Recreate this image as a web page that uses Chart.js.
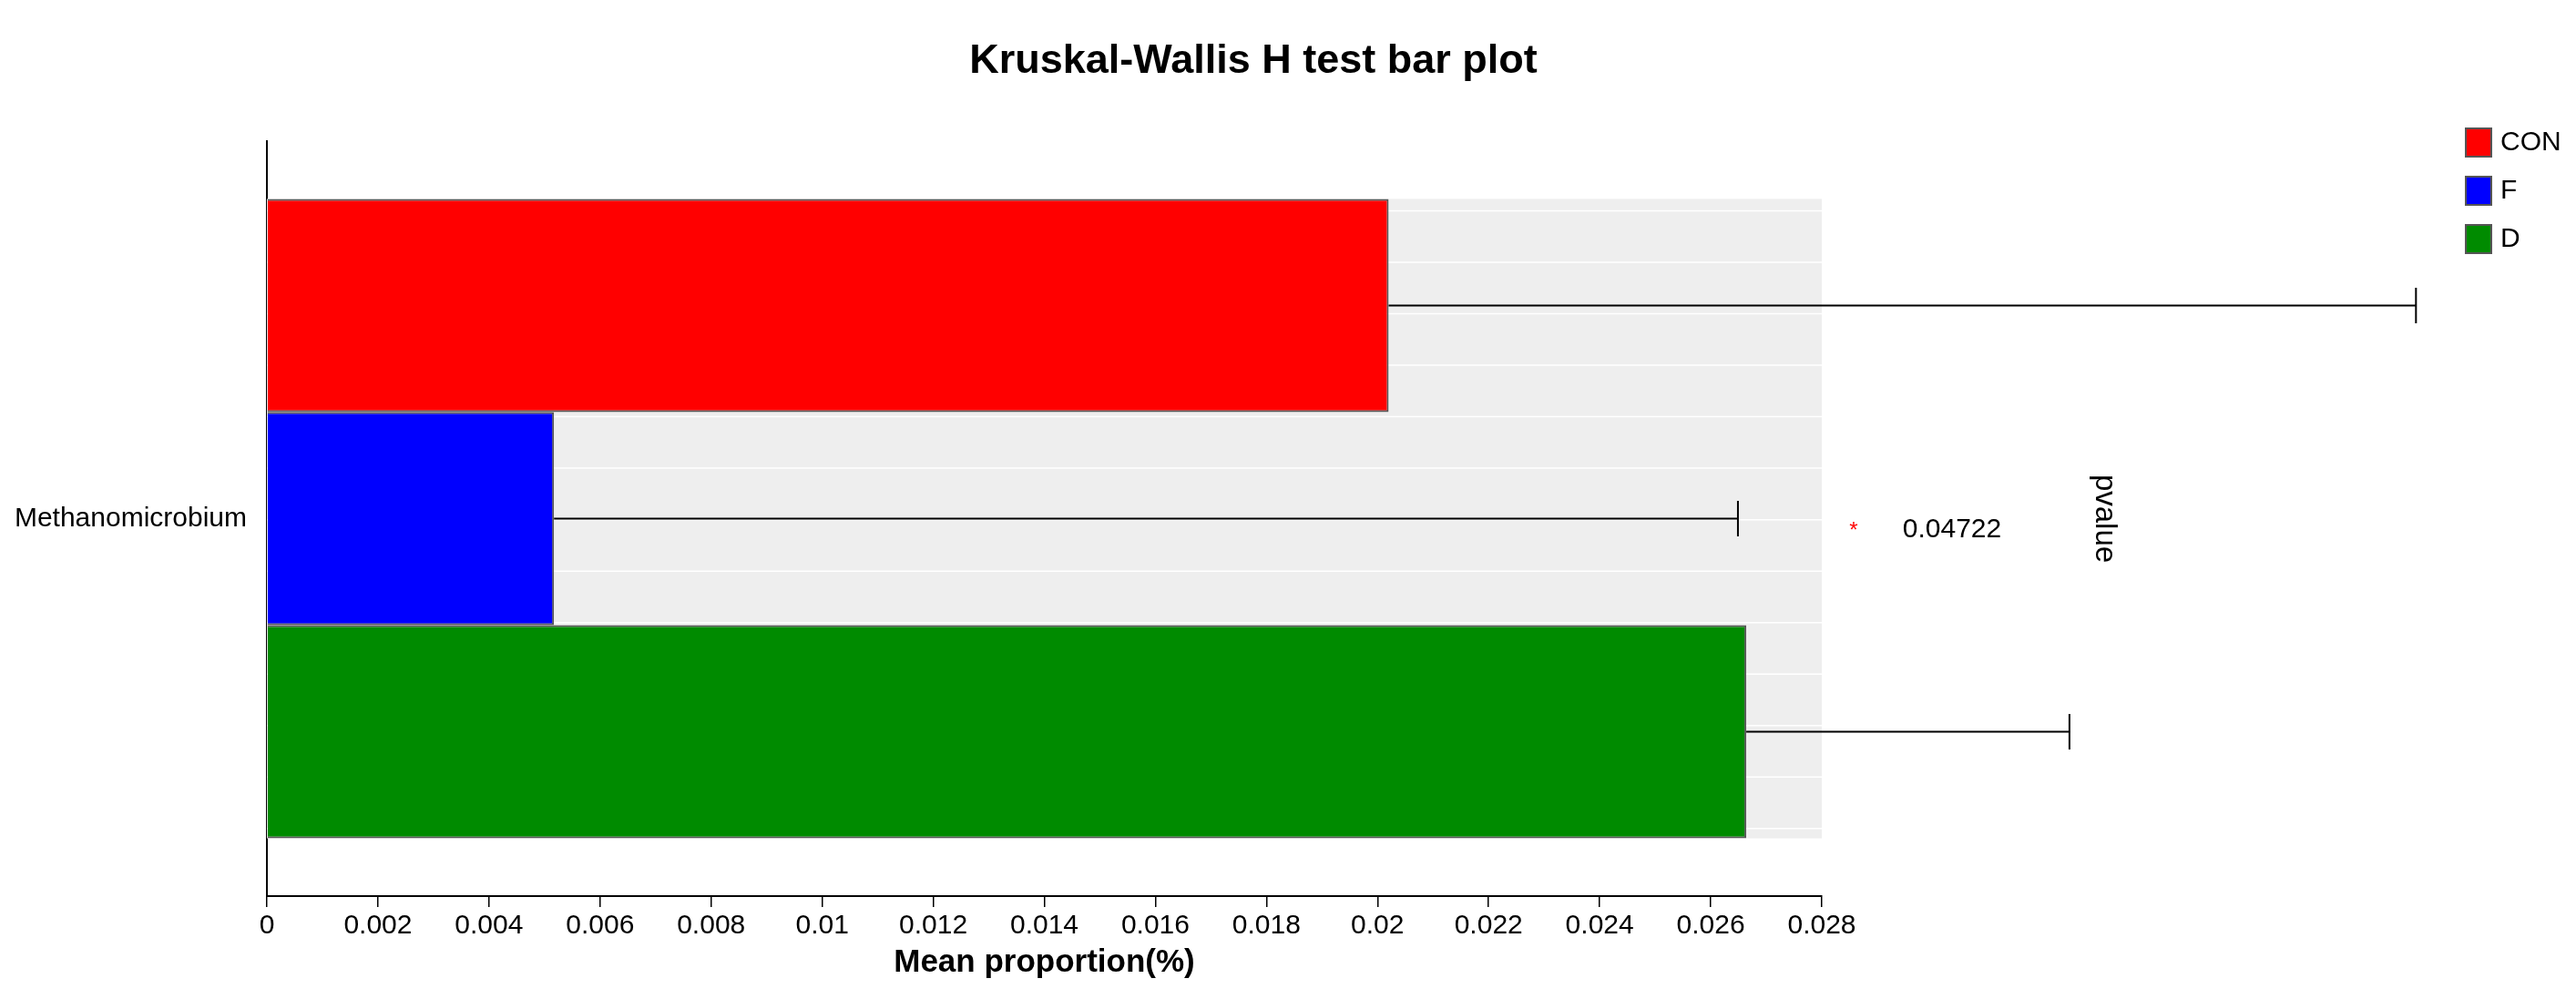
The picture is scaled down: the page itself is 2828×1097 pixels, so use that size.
<!DOCTYPE html>
<html>
<head>
<meta charset="utf-8">
<script src="https://cdn.jsdelivr.net/npm/chart.js@4.4.0/dist/chart.umd.min.js"></script>
<style>
  html, body { margin: 0; padding: 0; background: #fff; }
  #wrap { width: 2828px; height: 1097px; }
</style>
</head>
<body>
<div id="wrap"><canvas id="grafico" width="2828" height="1097"></canvas></div>
<script>
// datos
const categorias = ['Methanomicrobium'];
const grupos = ['CON', 'F', 'D'];
const colores = ['#FF0000', '#0000FF', '#008B00'];
const medias = [0.0202, 0.00517, 0.02664];
const errores = [0.0185, 0.02132, 0.00582];
const pValores = [0.04722];
const marcasSig = ['*'];
const ejeX = { min: 0, max: 0.028, paso: 0.002 };

Chart.defaults.font.family = '"Liberation Sans", Arial, Helvetica, sans-serif';
Chart.defaults.color = '#000';

// fondo gris detras de las barras, con las rayas blancas finas
const fondoGris = {
  id: 'fondoGris',
  beforeDatasetsDraw(chart) {
    const { ctx, chartArea } = chart;
    const primera = chart.getDatasetMeta(0).data[0];
    const ultima = chart.getDatasetMeta(grupos.length - 1).data[0];
    if (!primera || !ultima) return;
    const top = primera.y - primera.height / 2;
    const bottom = ultima.y + ultima.height / 2;
    ctx.save();
    ctx.fillStyle = '#EEEEEE';
    ctx.fillRect(chartArea.left, top, chartArea.right - chartArea.left, bottom - top);
    ctx.strokeStyle = '#FFFFFF';
    ctx.lineWidth = 1.5;
    const paso = (bottom - top) / 12.42;
    for (let y = top + paso * 0.23; y < bottom; y += paso) {
      ctx.beginPath();
      ctx.moveTo(chartArea.left, y);
      ctx.lineTo(chartArea.right, y);
      ctx.stroke();
    }
    ctx.restore();
  }
};

// barras de error solo hacia la derecha (media + sd)
const barrasError = {
  id: 'barrasError',
  afterDatasetsDraw(chart) {
    const { ctx, scales } = chart;
    ctx.save();
    ctx.strokeStyle = '#000';
    ctx.lineWidth = 2;
    chart.data.datasets.forEach((ds, i) => {
      const barra = chart.getDatasetMeta(i).data[0];
      if (!barra) return;
      const x0 = barra.x;
      const x1 = scales.x.getPixelForValue(ds.data[0] + ds.errores[0]);
      const y = barra.y;
      ctx.beginPath();
      ctx.moveTo(x0, y);
      ctx.lineTo(x1, y);
      ctx.moveTo(x1, y - 19.5);
      ctx.lineTo(x1, y + 19.5);
      ctx.stroke();
    });
    ctx.restore();
  }
};

// asterisco, valor p y el texto "pvalue"
const textosP = {
  id: 'textosP',
  afterDraw(chart) {
    const { ctx, chartArea, scales } = chart;
    ctx.save();
    categorias.forEach((cat, i) => {
      const y = scales.y.getPixelForValue(i);
      ctx.textAlign = 'center';
      ctx.textBaseline = 'alphabetic';
      ctx.fillStyle = '#FF0000';
      ctx.font = '24px "Liberation Sans", Arial, sans-serif';
      ctx.fillText(marcasSig[i], chartArea.right + 35, y + 20);
      ctx.fillStyle = '#000';
      ctx.font = '30px "Liberation Sans", Arial, sans-serif';
      ctx.fillText(String(pValores[i]), chartArea.right + 143, y + 20);
    });
    const yMedio = (chartArea.top + chartArea.bottom) / 2;
    ctx.translate(chartArea.right + 310, yMedio);
    ctx.rotate(Math.PI / 2);
    ctx.textAlign = 'center';
    ctx.textBaseline = 'middle';
    ctx.fillStyle = '#000';
    ctx.font = '33px "Liberation Sans", Arial, sans-serif';
    ctx.fillText('pvalue', 0, 0);
    ctx.restore();
  }
};

// leyenda arriba a la derecha
const leyenda = {
  id: 'leyenda',
  afterDraw(chart) {
    const { ctx } = chart;
    ctx.save();
    ctx.font = '30px "Liberation Sans", Arial, sans-serif';
    ctx.textAlign = 'left';
    ctx.textBaseline = 'middle';
    chart.data.datasets.forEach((ds, i) => {
      const x = chart.width - 121;
      const y = 141 + i * 53;
      ctx.fillStyle = ds.backgroundColor;
      ctx.fillRect(x, y, 28, 31);
      ctx.strokeStyle = '#555';
      ctx.lineWidth = 2;
      ctx.strokeRect(x, y, 28, 31);
      ctx.fillStyle = '#000';
      ctx.fillText(ds.label, x + 38, y + 16);
    });
    ctx.restore();
  }
};

const ctx = document.getElementById('grafico').getContext('2d');

new Chart(ctx, {
  type: 'bar',
  data: {
    labels: categorias,
    datasets: grupos.map((g, i) => ({
      label: g,
      data: [medias[i]],
      errores: [errores[i]],
      backgroundColor: colores[i],
      borderColor: '#555555',
      borderWidth: 2,
      categoryPercentage: 0.847,
      barPercentage: 1
    }))
  },
  options: {
    indexAxis: 'y',
    responsive: false,
    animation: false,
    devicePixelRatio: 1,
    layout: { padding: { top: 0, left: 0, right: 76, bottom: 0 } },
    plugins: {
      legend: { display: false },
      tooltip: { enabled: false },
      title: {
        display: true,
        text: 'Kruskal-Wallis H test bar plot',
        color: '#000',
        font: { size: 45, weight: 'bold' },
        padding: { top: 41, bottom: 60 }
      }
    },
    scales: {
      x: {
        type: 'linear',
        min: ejeX.min,
        max: ejeX.max,
        afterFit(scale) { scale.height = 113; },
        ticks: {
          stepSize: ejeX.paso,
          color: '#000',
          font: { size: 30 },
          padding: 3,
          maxRotation: 0,
          autoSkip: false,
          callback: value => String(+value.toFixed(3))
        },
        grid: { display: true, drawOnChartArea: false, drawTicks: true, tickLength: 12, color: '#000', lineWidth: 1.5 },
        border: { display: true, color: '#000', width: 2 },
        title: {
          display: true,
          text: 'Mean proportion(%)',
          color: '#000',
          font: { size: 35, weight: 'bold' },
          padding: { top: 0, bottom: 19 }
        }
      },
      y: {
        type: 'category',
        offset: true,
        afterFit(scale) { scale.width = 293; },
        ticks: { color: '#000', font: { size: 30 }, padding: 22 },
        grid: { display: false, drawTicks: false },
        border: { display: true, color: '#000', width: 2 }
      },
      y2: {
        type: 'linear',
        position: 'right',
        afterFit(scale) { scale.width = 752; },
        ticks: { display: false },
        grid: { display: false },
        border: { display: false }
      }
    }
  },
  plugins: [fondoGris, barrasError, textosP, leyenda]
});
</script>
</body>
</html>
